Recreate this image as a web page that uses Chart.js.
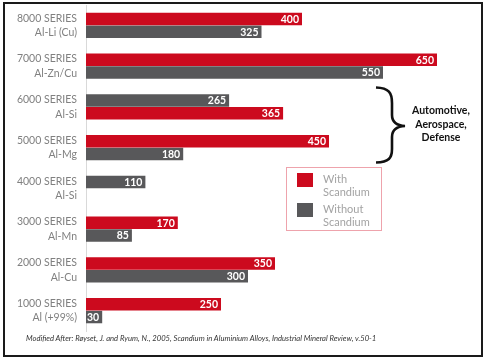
<!DOCTYPE html>
<html>
<head>
<meta charset="utf-8">
<script src="https://cdn.jsdelivr.net/npm/chart.js@4/dist/chart.umd.min.js"></script>
<style>
  html, body { margin: 0; padding: 0; background: #fff; }
  #wrap { position: relative; width: 485px; height: 360px; overflow: hidden; font-family: Lato, "Open Sans", sans-serif; }
  #c { position: absolute; left: 0; top: 0; }
  #frame { position: absolute; left: 3px; top: 2px; width: 476px; height: 351px; border: 2px solid #1a1a1a; pointer-events: none; }
  #legend { position: absolute; left: 286px; top: 167px; width: 94px; height: 62px; border: 1.5px solid #eea3ac; }
  .sw { position: absolute; left: 10px; width: 16px; height: 14px; }
  .lt { position: absolute; left: 36px; font-size: 11px; line-height: 13px; color: #a3a3a3; }
  #note { position: absolute; left: 404px; top: 104px; width: 74px; text-align: center; font-weight: bold; font-size: 10.5px; line-height: 13.5px; color: #111; }
  #foot { position: absolute; left: 26px; top: 333px; font-style: italic; font-size: 8.5px; color: #333; white-space: nowrap; transform-origin: left center; transform: scaleX(0.9); }
  svg { position: absolute; left: 0; top: 0; }
</style>
</head>
<body>
<div id="wrap">
  <canvas id="c" width="485" height="360"></canvas>
  <svg width="485" height="360">
    <path d="M 376 87.5 C 389 88, 392 93, 392 103 L 392 115 C 392 122, 396 125.5, 405 126 C 396 126.5, 392 130, 392 137 L 392 149 C 392 158, 389 162, 376 162.5" fill="none" stroke="#111" stroke-width="2.6"/>
  </svg>
  <div id="note">Automotive,<br>Aerospace,<br>Defense</div>
  <div id="legend">
    <div class="sw" style="top:5px;background:#cc0a1e"></div>
    <div class="lt" style="top:4px">With<br>Scandium</div>
    <div class="sw" style="top:35px;background:#58585a"></div>
    <div class="lt" style="top:34px">Without<br>Scandium</div>
  </div>
  <div id="foot">Modified After: Røyset, J. and Ryum, N., 2005, Scandium in Aluminium Alloys, Industrial Mineral Review, v.50-1</div>
  <div id="frame"></div>
</div>
<script>
// ---- data ----
const categories = [
  ['8000 SERIES', 'Al-Li (Cu)'],
  ['7000 SERIES', 'Al-Zn/Cu'],
  ['6000 SERIES', 'Al-Si'],
  ['5000 SERIES', 'Al-Mg'],
  ['4000 SERIES', 'Al-Si'],
  ['3000 SERIES', 'Al-Mn'],
  ['2000 SERIES', 'Al-Cu'],
  ['1000 SERIES', 'Al (+99%)']
];
const withScandium    = [400, 650, 365, 450, null, 170, 350, 250];
const withoutScandium = [325, 550, 265, 180, 110,  85, 300,  30];
// which series occupies the upper slot of each group in the original
const withoutOnTop    = [false, false, true, false, true, false, false, false];

const RED = '#cc0a1e', GREY = '#58585a';

const upperData = categories.map((_, i) => withoutOnTop[i] ? withoutScandium[i] : withScandium[i]);
const lowerData = categories.map((_, i) => withoutOnTop[i] ? withScandium[i] : withoutScandium[i]);
const upperColors = categories.map((_, i) => withoutOnTop[i] ? GREY : RED);
const lowerColors = categories.map((_, i) => withoutOnTop[i] ? RED : GREY);

const valueLabels = {
  id: 'valueLabels',
  afterDatasetsDraw(chart) {
    const ctx = chart.ctx;
    ctx.save();
    ctx.font = 'bold 10.5px Lato, "Open Sans", sans-serif';
    ctx.fillStyle = '#fff';
    ctx.textAlign = 'right';
    ctx.textBaseline = 'middle';
    chart.data.datasets.forEach((ds, di) => {
      const meta = chart.getDatasetMeta(di);
      meta.data.forEach((bar, i) => {
        const v = ds.data[i];
        if (v == null) return;
        ctx.fillText(String(v), bar.x - 3, bar.y + 0.5);
      });
    });
    ctx.restore();
  }
};

new Chart(document.getElementById('c'), {
  type: 'bar',
  data: {
    labels: categories,
    datasets: [
      { label: 'upper', data: upperData, backgroundColor: upperColors, borderWidth: 0, categoryPercentage: 0.63, barPercentage: 0.97 },
      { label: 'lower', data: lowerData, backgroundColor: lowerColors, borderWidth: 0, categoryPercentage: 0.63, barPercentage: 0.97 }
    ]
  },
  options: {
    indexAxis: 'y',
    responsive: false,
    animation: false,
    layout: { padding: { top: 5, bottom: 29, left: 0, right: 21 } },
    plugins: { legend: { display: false }, tooltip: { enabled: false } },
    scales: {
      x: { display: false, min: 0, max: 700 },
      y: {
        afterFit(scale) { scale.width = 86; scale.paddingTop = 0; scale.paddingBottom = 0; },
        grid: { display: true, color: 'rgba(0,0,0,0)', drawTicks: false },
        border: { display: true, color: '#d9d9d9', width: 1 },
        ticks: { color: '#808080', padding: 9, font: { family: 'Lato, "Open Sans", sans-serif', size: 10.5, lineHeight: 1.38 } }
      }
    }
  },
  plugins: [valueLabels]
});
</script>
</body>
</html>
